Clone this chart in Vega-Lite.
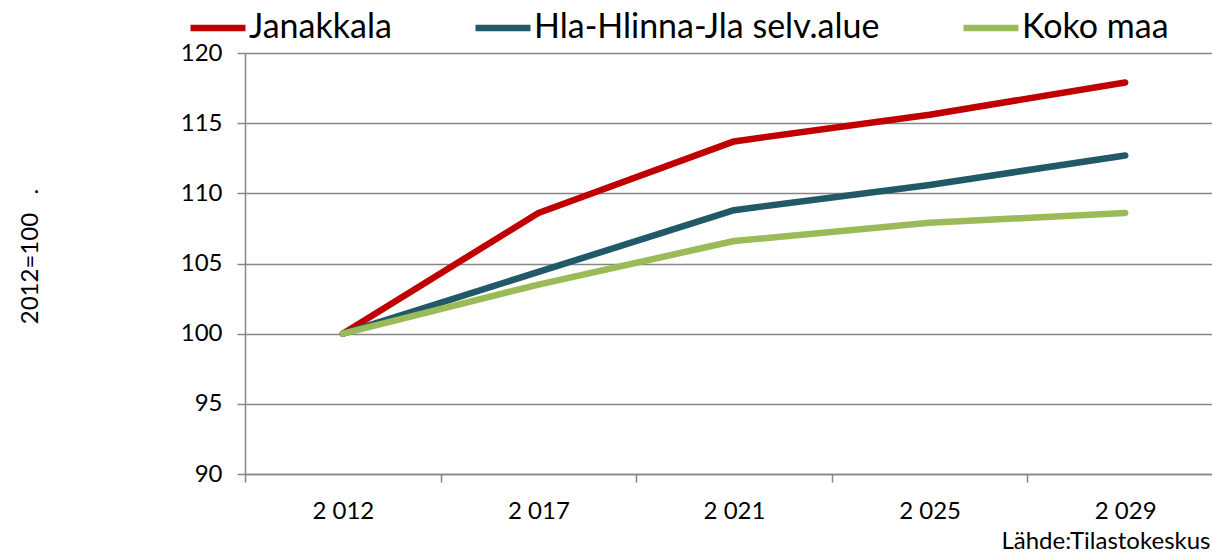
{
  "$schema": "https://vega.github.io/schema/vega-lite/v6.json",
  "width": 967,
  "height": 421,
  "autosize": {"type": "none"},
  "padding": {"left": 245, "top": 53, "right": 0, "bottom": 79},
  "background": "white",
  "config": {"font": "Lato", "view": {"stroke": null}},
  "data": {
    "values": [
      {"vuosi": "2 012", "alue": "Janakkala", "indeksi": 100},
      {"vuosi": "2 017", "alue": "Janakkala", "indeksi": 108.6},
      {"vuosi": "2 021", "alue": "Janakkala", "indeksi": 113.7},
      {"vuosi": "2 025", "alue": "Janakkala", "indeksi": 115.6},
      {"vuosi": "2 029", "alue": "Janakkala", "indeksi": 117.9},
      {"vuosi": "2 012", "alue": "Hla-Hlinna-Jla selv.alue", "indeksi": 100},
      {"vuosi": "2 017", "alue": "Hla-Hlinna-Jla selv.alue", "indeksi": 104.4},
      {"vuosi": "2 021", "alue": "Hla-Hlinna-Jla selv.alue", "indeksi": 108.8},
      {"vuosi": "2 025", "alue": "Hla-Hlinna-Jla selv.alue", "indeksi": 110.6},
      {"vuosi": "2 029", "alue": "Hla-Hlinna-Jla selv.alue", "indeksi": 112.7},
      {"vuosi": "2 012", "alue": "Koko maa", "indeksi": 100},
      {"vuosi": "2 017", "alue": "Koko maa", "indeksi": 103.5},
      {"vuosi": "2 021", "alue": "Koko maa", "indeksi": 106.6},
      {"vuosi": "2 025", "alue": "Koko maa", "indeksi": 107.9},
      {"vuosi": "2 029", "alue": "Koko maa", "indeksi": 108.6}
    ]
  },
  "mark": {"type": "line", "strokeWidth": 6.5, "strokeCap": "round", "strokeJoin": "round"},
  "encoding": {
    "x": {
      "field": "vuosi",
      "type": "ordinal",
      "sort": null,
      "bandPosition": 0.5,
      "scale": {"type": "band", "paddingInner": 0, "paddingOuter": 0, "range": [0, 978]},
      "axis": {
        "title": "Lähde:Tilastokeskus",
        "titleFont": "Lato",
        "titleFontSize": 24,
        "titleFontWeight": "normal",
        "titleColor": "#000000",
        "titleX": 965,
        "titleY": 74,
        "titleAlign": "right",
        "titleBaseline": "alphabetic",
        "labelAngle": 0,
        "labelFontSize": 24,
        "labelColor": "#000000",
        "labelBaseline": "alphabetic",
        "labelPadding": 36,
        "tickBand": "extent",
        "tickSize": 8,
        "tickColor": "#868686",
        "tickWidth": 1.5,
        "domainColor": "#868686",
        "domainWidth": 1.5,
        "grid": false
      }
    },
    "y": {
      "field": "indeksi",
      "type": "quantitative",
      "scale": {"domain": [90, 120], "nice": false, "zero": false},
      "axis": {
        "values": [90, 95, 100, 105, 110, 115, 120],
        "title": "2012=100\u00a0\u00a0\u00a0.",
        "titleAngle": 270,
        "titleX": -215,
        "titleY": 203,
        "titleAlign": "center",
        "titleBaseline": "middle",
        "titleFontSize": 24,
        "titleFontWeight": "normal",
        "titleColor": "#000000",
        "labelFontSize": 24,
        "labelColor": "#000000",
        "labelPadding": 15,
        "tickSize": 8,
        "tickColor": "#868686",
        "tickWidth": 1.5,
        "domainColor": "#868686",
        "domainWidth": 1.5,
        "grid": true,
        "gridColor": "#868686",
        "gridWidth": 1.5
      }
    },
    "color": {
      "field": "alue",
      "type": "nominal",
      "scale": {
        "domain": ["Janakkala", "Hla-Hlinna-Jla selv.alue", "Koko maa"],
        "range": ["#C00000", "#215968", "#9BBB59"]
      },
      "legend": {
        "orient": "none",
        "legendX": -58,
        "legendY": -56,
        "direction": "horizontal",
        "title": null,
        "symbolType": "stroke",
        "symbolSize": 3025,
        "symbolStrokeWidth": 6.5,
        "labelFontSize": 34,
        "labelColor": "#000000",
        "labelFont": "Lato",
        "labelOffset": 0,
        "labelLimit": 0,
        "columnPadding": 70,
        "padding": 0
      }
    }
  }
}
